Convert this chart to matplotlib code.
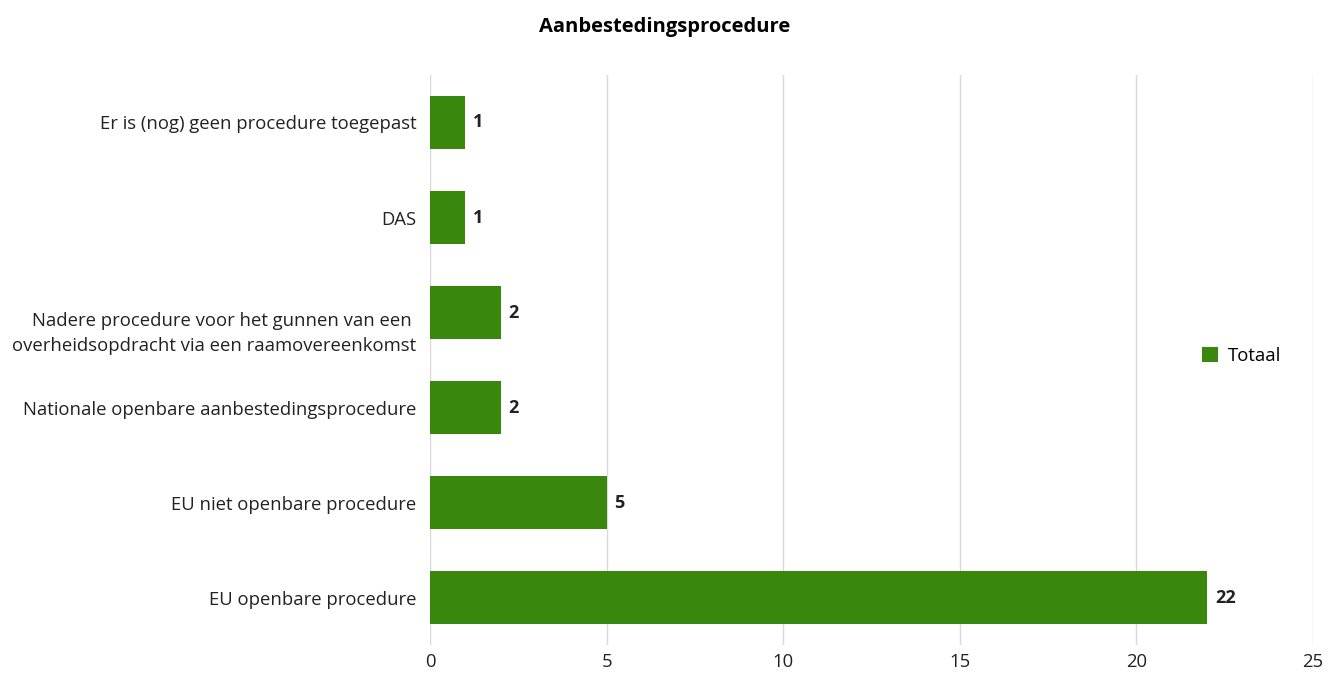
import matplotlib
matplotlib.use("Agg")
import matplotlib.pyplot as plt
import matplotlib.transforms as mtransforms

plt.rcParams['font.family'] = ['Open Sans', 'DejaVu Sans']

categories = [
    'Er is (nog) geen procedure toegepast',
    'DAS',
    'Nadere procedure voor het gunnen van een \noverheidsopdracht via een raamovereenkomst',
    'Nationale openbare aanbestedingsprocedure',
    'EU niet openbare procedure',
    'EU openbare procedure',
]
totaal = [1, 1, 2, 2, 5, 22]
xticks = [0, 5, 10, 15, 20, 25]

green = '#39870c'

fig = plt.figure(figsize=(13.29, 6.75), dpi=100)
ax = fig.add_axes([0.3236, 0.0444, 0.6644, 0.8445])

pos = list(range(len(categories)))
ax.barh(pos, totaal, height=0.56, color=green, label='Totaal', zorder=3)
for p, v in zip(pos, totaal):
    ax.text(v + 0.22, p, str(v), va='center', ha='left', fontsize=13, fontweight='bold', color='#222222')

ax.set_yticks(pos)
ax.set_yticklabels(categories, fontsize=13.3, color='#222222', linespacing=1.5)
ax.set_ylim(len(categories) - 0.5, -0.5)
ax.set_xlim(0, 25)
ax.set_xticks(xticks)
ax.tick_params(axis='x', labelsize=13.3, length=0, pad=6, colors='#222222')
ax.tick_params(axis='y', length=0, pad=10)
ax.grid(axis='x', color='#d9d9d9', linewidth=1, zorder=0)
for s in ax.spines.values():
    s.set_visible(False)

# two-line label sits a bit lower in the original
lbl = ax.get_yticklabels()[2]
lbl.set_transform(lbl.get_transform() + mtransforms.ScaledTranslation(0, -0.15, fig.dpi_scale_trans))

ax.legend(loc='center left', bbox_to_anchor=(0.855, 0.507), frameon=False, fontsize=13.3,
          handlelength=0.9, handleheight=0.9, handletextpad=0.5)

fig.suptitle('Aanbestedingsprocedure', x=0.5, y=0.975, fontsize=14.5, fontweight='bold')

fig.savefig('out.png', dpi=100)
